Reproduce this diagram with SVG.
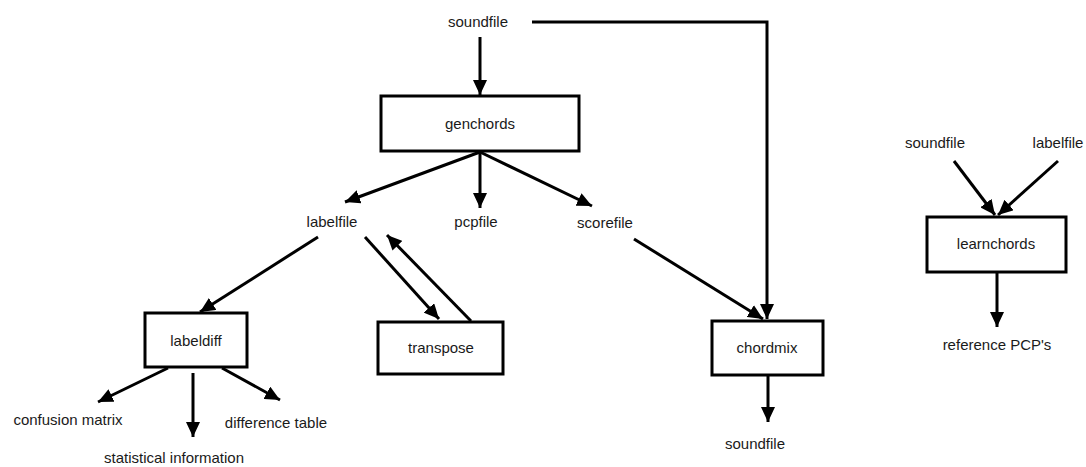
<svg xmlns="http://www.w3.org/2000/svg" width="1086" height="467" viewBox="0 0 1086 467">
  <style>
    .box { fill: #ffffff; stroke: #000000; stroke-width: 3; }
    .lbl { font-family: "Liberation Sans", Arial, sans-serif; font-size: 15px; fill: #1a1a1a; text-anchor: middle; }
    .edge { fill: none; stroke: #000000; stroke-width: 3; marker-end: url(#head); }
  </style>
  <defs>
    <marker id="head" markerUnits="userSpaceOnUse" markerWidth="16" markerHeight="14" refX="15" refY="7" orient="auto">
      <path d="M0,0 L15,7 L0,14 z" fill="#000000"/>
    </marker>
  </defs>
  <rect width="1086" height="467" fill="#ffffff"/>

  <!-- data files (plain text nodes) -->
  <g id="soundfile-in"><text class="lbl" x="478" y="27">soundfile</text></g>
  <g id="labelfile"><text class="lbl" x="332" y="227">labelfile</text></g>
  <g id="pcpfile"><text class="lbl" x="476" y="227">pcpfile</text></g>
  <g id="scorefile"><text class="lbl" x="605" y="228">scorefile</text></g>
  <g id="confusion-matrix"><text class="lbl" x="68" y="425">confusion matrix</text></g>
  <g id="statistical-information"><text class="lbl" x="174" y="463">statistical information</text></g>
  <g id="difference-table"><text class="lbl" x="276" y="428">difference table</text></g>
  <g id="soundfile-out"><text class="lbl" x="755" y="449">soundfile</text></g>
  <g id="soundfile-learn"><text class="lbl" x="935" y="148">soundfile</text></g>
  <g id="labelfile-learn"><text class="lbl" x="1058" y="148">labelfile</text></g>
  <g id="reference-pcps"><text class="lbl" x="997" y="350">reference PCP's</text></g>

  <!-- programs -->
  <g id="genchords">
    <rect class="box" x="381" y="96" width="198" height="55"/>
    <text class="lbl" x="480" y="129">genchords</text>
  </g>
  <g id="labeldiff">
    <rect class="box" x="145" y="313" width="102" height="54"/>
    <text class="lbl" x="196" y="346">labeldiff</text>
  </g>
  <g id="transpose">
    <rect class="box" x="378" y="322" width="125" height="52"/>
    <text class="lbl" x="441" y="353">transpose</text>
  </g>
  <g id="chordmix">
    <rect class="box" x="712" y="321" width="111" height="54"/>
    <text class="lbl" x="767" y="353">chordmix</text>
  </g>
  <g id="learnchords">
    <rect class="box" x="927" y="217" width="139" height="55"/>
    <text class="lbl" x="996" y="249">learnchords</text>
  </g>

  <!-- connectors -->
  <g id="connectors">
    <path class="edge" d="M480,37 L480,95"/>
    <path class="edge" d="M532,22 L767,22 L767,319"/>
    <path class="edge" d="M480,152 L345,202"/>
    <path class="edge" d="M480,152 L480,208"/>
    <path class="edge" d="M480,152 L592,206"/>
    <path class="edge" d="M318,237 L200,312"/>
    <path class="edge" d="M365,237 L439,319"/>
    <path class="edge" d="M471,321 L387,235"/>
    <path class="edge" d="M634,239 L763,319"/>
    <path class="edge" d="M168,368 L98,402"/>
    <path class="edge" d="M193,373 L193,437"/>
    <path class="edge" d="M222,368 L280,400"/>
    <path class="edge" d="M768,375 L768,422"/>
    <path class="edge" d="M954,161 L995,215"/>
    <path class="edge" d="M1058,161 L998,215"/>
    <path class="edge" d="M997,272 L997,327"/>
  </g>
</svg>
